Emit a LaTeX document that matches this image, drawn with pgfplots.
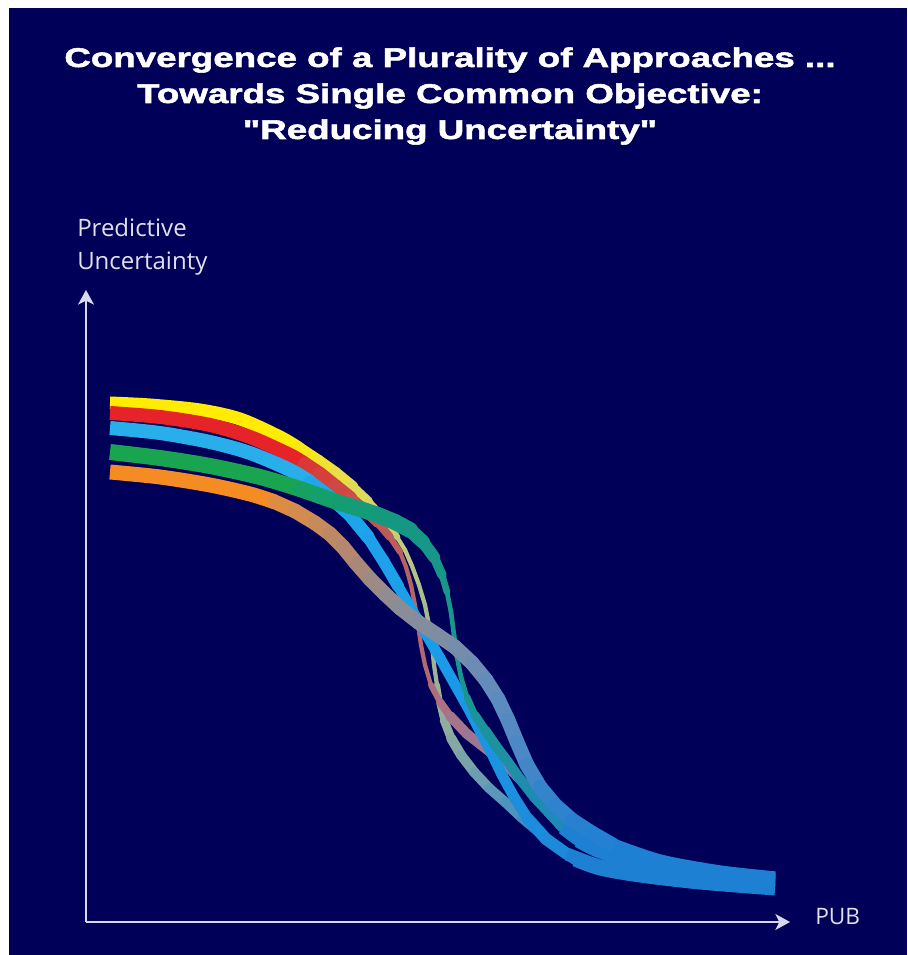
\documentclass[border=0pt]{standalone}
\usepackage{pgfplots}
\pgfplotsset{compat=1.18}
\usepackage{fontspec}
\usetikzlibrary{arrows.meta}
\newfontfamily\titlefont[FakeStretch=1.36, BoldFeatures={FakeBold=2}]{Liberation Sans}
\newfontfamily\labelfont{Open Sans}
\definecolor{navybg}{RGB}{0,0,88}
\definecolor{axiscol}{RGB}{215,215,240}
\definecolor{labcol}{RGB}{225,225,235}
\definecolor{cyel}{RGB}{255,236,0}
\definecolor{cred}{RGB}{230,35,40}
\definecolor{cblu}{RGB}{40,175,235}
\definecolor{cgrn}{RGB}{25,165,80}
\definecolor{corg}{RGB}{245,140,35}
\definecolor{cend}{RGB}{30,128,210}
\pgfplotsset{
  colormap={yel}{rgb255(0pt)=(255,236,0) rgb255(300pt)=(252,232,10) rgb255(350pt)=(230,220,80) rgb255(400pt)=(195,205,120) rgb255(450pt)=(140,170,160) rgb255(500pt)=(90,150,185) rgb255(550pt)=(45,135,205) rgb255(1000pt)=(30,128,210)},
  colormap={red}{rgb255(0pt)=(230,35,40) rgb255(300pt)=(222,50,50) rgb255(350pt)=(205,75,70) rgb255(400pt)=(185,95,95) rgb255(450pt)=(170,115,135) rgb255(500pt)=(145,120,160) rgb255(550pt)=(80,128,195) rgb255(600pt)=(40,128,208) rgb255(1000pt)=(30,128,210)},
  colormap={blu}{rgb255(0pt)=(40,175,235) rgb255(350pt)=(30,165,235) rgb255(450pt)=(25,155,232) rgb255(550pt)=(28,138,218) rgb255(600pt)=(30,130,212) rgb255(1000pt)=(30,128,210)},
  colormap={grn}{rgb255(0pt)=(25,165,80) rgb255(300pt)=(22,162,95) rgb255(350pt)=(20,157,115) rgb255(400pt)=(20,152,128) rgb255(450pt)=(25,150,140) rgb255(500pt)=(30,145,160) rgb255(550pt)=(30,138,185) rgb255(600pt)=(30,130,205) rgb255(1000pt)=(30,128,210)},
  colormap={org}{rgb255(0pt)=(245,140,35) rgb255(250pt)=(238,140,45) rgb255(300pt)=(215,140,75) rgb255(350pt)=(180,135,110) rgb255(400pt)=(140,140,150) rgb255(450pt)=(125,140,165) rgb255(500pt)=(95,140,190) rgb255(550pt)=(50,132,205) rgb255(600pt)=(35,128,210) rgb255(1000pt)=(30,128,210)},
  sol/.style 2 args={smooth, draw=#1, line width=#2, line cap=butt, line join=round},
  msh/.style 2 args={mesh, point meta=x, colormap name=#1, line width=#2, line cap=round, line join=round},
}
\begin{document}
\begin{tikzpicture}
\fill[white] (0pt,0pt) rectangle (680.25pt,716.25pt);
\fill[navybg] (6.75pt,0pt) rectangle (680.25pt,710.25pt);
\begin{axis}[
  at={(64.5pt,24.75pt)}, anchor=south west,
  scale only axis, width=528pt, height=474pt,
  xmin=86, xmax=790, ymin=-922, ymax=-290,
  axis lines=left,
  axis line style={draw=axiscol, line width=1.5pt},
  every outer x axis line/.append style={-{Stealth[length=11pt,width=12pt,inset=3pt]}},
  every outer y axis line/.append style={-{Stealth[length=11pt,width=12pt,inset=3pt]}},
  xtick=\empty, ytick=\empty,
  clip=false,
  point meta min=0, point meta max=1000,
]
% ---- yellow ----
\addplot[sol={cyel}{9.75pt}] coordinates {(110,-403) (150,-405) (200,-410) (240,-419) (280,-437) (300,-449)};
\addplot[msh={yel}{9.5pt}] coordinates {(300,-449) (318,-461) (335,-473) (352,-487)};
\addplot[msh={yel}{8pt}] coordinates {(352,-487) (368,-502)};
\addplot[msh={yel}{6.5pt}] coordinates {(368,-502) (383,-518)};
\addplot[msh={yel}{5pt}] coordinates {(383,-518) (397,-537)};
\addplot[msh={yel}{3.2pt}] coordinates {(397,-537) (405,-550) (412,-566) (419,-585) (425,-605) (429,-625) (432,-645) (434,-665) (437,-685)};
\addplot[msh={yel}{4.5pt}] coordinates {(437,-685) (440,-703)};
\addplot[msh={yel}{5.5pt}] coordinates {(440,-703) (444,-720)};
\addplot[msh={yel}{6.5pt}] coordinates {(444,-720) (451,-738)};
\addplot[msh={yel}{7.5pt}] coordinates {(451,-738) (461,-755) (474,-772) (489,-788) (505,-802) (522,-818) (540,-833) (557,-847) (575,-860)};
\addplot[sol={cend}{9.75pt}] coordinates {(575,-860) (600,-869) (640,-876) (700,-883) (775,-889)};
% ---- red ----
\addplot[sol={cred}{10.5pt}] coordinates {(110,-413) (160,-417) (210,-425) (250,-437) (290,-455) (305,-464)};
\addplot[msh={red}{10.5pt}] coordinates {(305,-464) (320,-474) (335,-486) (350,-498)};
\addplot[msh={red}{9pt}] coordinates {(350,-498) (365,-511)};
\addplot[msh={red}{7.5pt}] coordinates {(365,-511) (378,-523)};
\addplot[msh={red}{6pt}] coordinates {(378,-523) (390,-537)};
\addplot[msh={red}{4.5pt}] coordinates {(390,-537) (400,-552)};
\addplot[msh={red}{3.2pt}] coordinates {(400,-552) (406,-567) (411,-585) (415,-605) (418,-625) (421,-645) (425,-665) (431,-685)};
\addplot[msh={red}{4.5pt}] coordinates {(431,-685) (440,-702)};
\addplot[msh={red}{6pt}] coordinates {(440,-702) (450,-716)};
\addplot[msh={red}{7.5pt}] coordinates {(450,-716) (467,-734) (490,-752) (513,-772) (530,-790) (545,-808) (560,-825) (578,-841)};
\addplot[sol={cend}{9.75pt}] coordinates {(578,-841) (600,-852) (640,-864) (700,-874) (775,-883)};
% ---- light blue ----
\addplot[sol={cblu}{10.5pt}] coordinates {(110,-428) (160,-433) (210,-442) (250,-453) (290,-470) (310,-482)};
\addplot[msh={blu}{10pt}] coordinates {(310,-482) (330,-497) (350,-515) (368,-537)};
\addplot[msh={blu}{9pt}] coordinates {(368,-537) (384,-562) (398,-586)};
\addplot[msh={blu}{8pt}] coordinates {(398,-586) (412,-610) (426,-634) (440,-658) (454,-683) (467,-706) (479,-729) (491,-752) (502,-775) (514,-797) (528,-819)};
\addplot[msh={blu}{9pt}] coordinates {(528,-819) (546,-839) (567,-854)};
\addplot[sol={cend}{9.75pt}] coordinates {(567,-854) (600,-866) (640,-873) (700,-879) (775,-886)};
% ---- green ----
\addplot[sol={cgrn}{12pt}] coordinates {(110,-452) (160,-458) (210,-466) (260,-477) (300,-489)};
\addplot[msh={grn}{12pt}] coordinates {(300,-489) (320,-496) (340,-503) (360,-509) (378,-515) (395,-522) (410,-530)};
\addplot[msh={grn}{10.5pt}] coordinates {(410,-530) (423,-542)};
\addplot[msh={grn}{9pt}] coordinates {(423,-542) (434,-557)};
\addplot[msh={grn}{7pt}] coordinates {(434,-557) (442,-575)};
\addplot[msh={grn}{5pt}] coordinates {(442,-575) (447,-592)};
\addplot[msh={grn}{3.5pt}] coordinates {(447,-592) (451,-612) (454,-635) (457,-657) (461,-677) (467,-697)};
\addplot[msh={grn}{5pt}] coordinates {(467,-697) (475,-715)};
\addplot[msh={grn}{6.5pt}] coordinates {(475,-715) (485,-730)};
\addplot[msh={grn}{7.5pt}] coordinates {(485,-730) (496,-746) (508,-762) (520,-779) (534,-797) (548,-812) (563,-828)};
\addplot[sol={cend}{9.75pt}] coordinates {(563,-828) (590,-846) (640,-860) (700,-870) (775,-880)};
% ---- orange ----
\addplot[sol={corg}{11.25pt}] coordinates {(110,-472) (160,-477) (210,-485) (250,-494) (275,-502)};
\addplot[msh={org}{11pt}] coordinates {(275,-502) (295,-511) (315,-523) (330,-534) (343,-547) (356,-563) (370,-579) (385,-594) (400,-608) (418,-622) (436,-634) (455,-647) (472,-663) (486,-680) (498,-699) (508,-720) (517,-742) (527,-765) (540,-787) (555,-805) (572,-820) (592,-833) (613,-845)};
\addplot[sol={cend}{10pt}] coordinates {(613,-845) (660,-861) (720,-872) (775,-878)};
\end{axis}
\node[anchor=base, text=white, font=\titlefont\bfseries\fontsize{20.25pt}{24pt}\selectfont] at (337.5pt,666pt) {Convergence of a Plurality of Approaches ...};
\node[anchor=base, text=white, font=\titlefont\bfseries\fontsize{20.25pt}{24pt}\selectfont] at (337.5pt,639pt) {Towards Single Common Objective:};
\node[anchor=base, text=white, font=\titlefont\bfseries\fontsize{20.25pt}{24pt}\selectfont] at (337.5pt,612pt) {"Reducing Uncertainty"};
\node[anchor=base west, text=labcol, font=\labelfont\fontsize{18pt}{22pt}\selectfont, inner sep=0pt] at (57.75pt,538.5pt) {Predictive};
\node[anchor=base west, text=labcol, font=\labelfont\fontsize{18pt}{22pt}\selectfont, inner sep=0pt] at (57.75pt,513.75pt) {Uncertainty};
\node[anchor=base west, text=labcol, font=\labelfont\fontsize{17pt}{20pt}\selectfont, inner sep=0pt] at (611.25pt,23.25pt) {PUB};
\end{tikzpicture}
\end{document}
